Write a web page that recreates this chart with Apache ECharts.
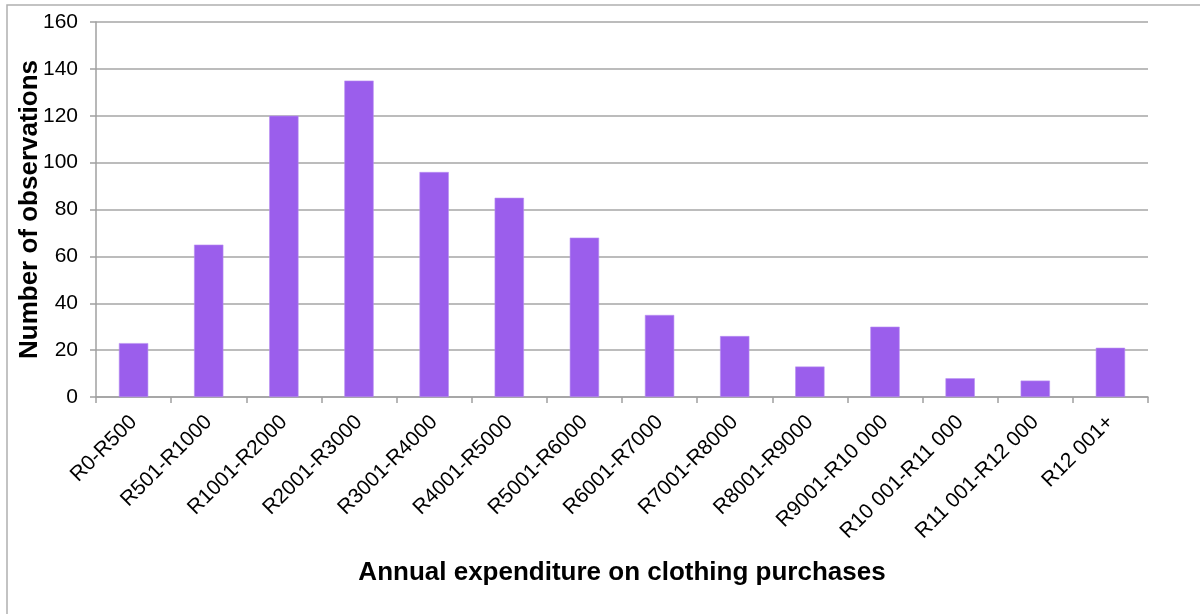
<!DOCTYPE html>
<html>
<head>
<meta charset="utf-8">
<script src="https://cdn.jsdelivr.net/npm/echarts@6/dist/echarts.min.js"></script>
<style>html,body{margin:0;padding:0;background:#fff;}#c{width:1200px;height:614px;}</style>
</head>
<body>
<div id="c"></div>
<script>
const categories = ['R0-R500','R501-R1000','R1001-R2000','R2001-R3000','R3001-R4000','R4001-R5000','R5001-R6000','R6001-R7000','R7001-R8000','R8001-R9000','R9001-R10 000','R10 001-R11 000','R11 001-R12 000','R12 001+'];
const observations = [23, 65, 120, 135, 96, 85, 68, 35, 26, 13, 30, 8, 7, 21];
const yTicks = { min: 0, max: 160, interval: 20 };

const chart = echarts.init(document.getElementById('c'), null, { renderer: 'canvas' });
chart.setOption({
  animation: false,
  backgroundColor: '#fff',
  graphic: [{
    type: 'rect', shape: { x: 7, y: 5, width: 1400, height: 800 },
    style: { fill: 'none', stroke: '#b0b0b0', lineWidth: 1.5 }, z: -1, silent: true
  }],
  grid: { left: 96, right: 52, top: 22, bottom: 217, containLabel: false },
  xAxis: {
    type: 'category',
    data: categories,
    name: 'Annual expenditure on clothing purchases',
    nameLocation: 'middle',
    nameGap: 163,
    nameMoveOverlap: false,
    nameTextStyle: { fontFamily: 'Liberation Sans, Arial, sans-serif', fontSize: 26, fontWeight: 'bold', color: '#000' },
    axisLine: { lineStyle: { color: '#a0a0a0', width: 1.5 } },
    axisTick: { show: true, alignWithLabel: false, length: 6, lineStyle: { color: '#a0a0a0', width: 1.5 } },
    axisLabel: { rotate: 45, interval: 0, margin: 22, fontFamily: 'Liberation Sans, Arial, sans-serif', fontSize: 21, color: '#000' }
  },
  yAxis: {
    type: 'value',
    min: yTicks.min, max: yTicks.max, interval: yTicks.interval,
    name: 'Number of observations',
    nameLocation: 'middle',
    nameGap: 53,
    nameMoveOverlap: false,
    nameTextStyle: { fontFamily: 'Liberation Sans, Arial, sans-serif', fontSize: 26, fontWeight: 'bold', color: '#000' },
    axisLine: { show: true, lineStyle: { color: '#a0a0a0', width: 1.5 } },
    axisTick: { show: true, length: 6, lineStyle: { color: '#a0a0a0', width: 1.5 } },
    splitLine: { show: true, lineStyle: { color: '#a6a6a6', width: 1.5 } },
    axisLabel: { margin: 18, fontFamily: 'Liberation Sans, Arial, sans-serif', fontSize: 21, color: '#000' }
  },
  series: [{
    type: 'bar',
    data: observations,
    barWidth: '39%',
    itemStyle: { color: '#9b5eec', borderColor: '#b88ef2', borderWidth: 0.6 }
  }]
});
</script>
</body>
</html>
